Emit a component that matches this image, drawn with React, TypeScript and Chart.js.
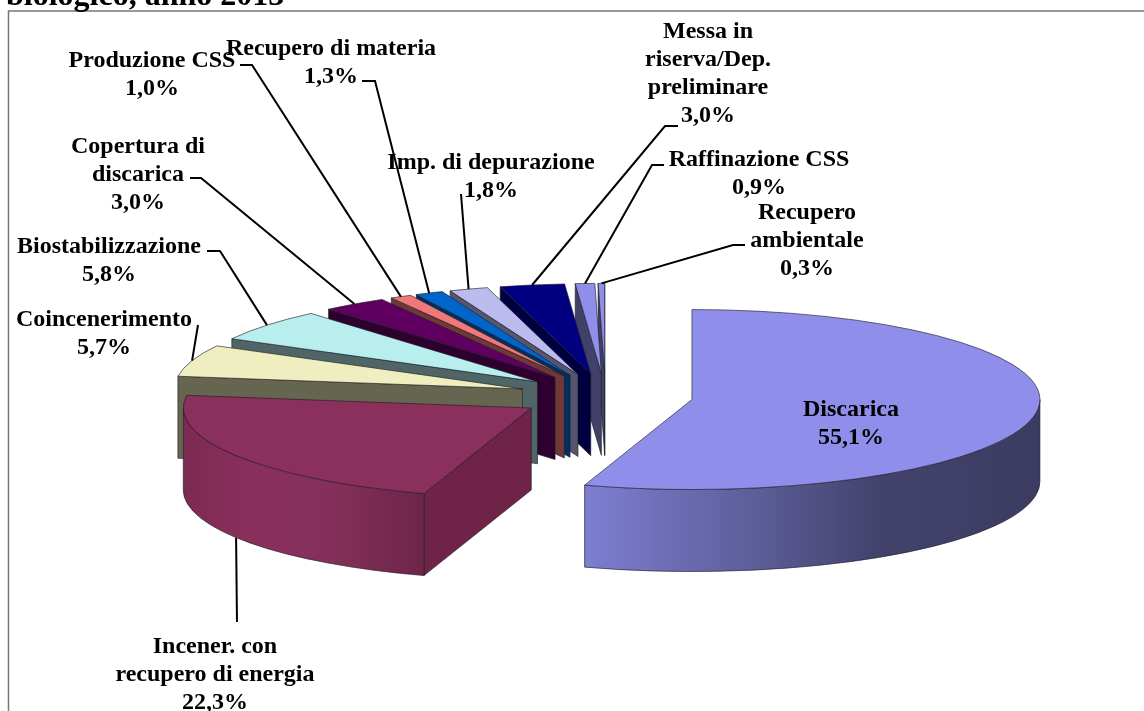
import React, { useEffect, useRef } from "react";
import { Chart, registerables } from "chart.js";

Chart.register(...registerables);

const titleText = "biologico, anno 2013";
const categories = [
  "Discarica",
  "Incener. con\nrecupero di energia",
  "Coincenerimento",
  "Biostabilizzazione",
  "Copertura di\ndiscarica",
  "Produzione CSS",
  "Recupero di materia",
  "Imp. di depurazione",
  "Messa in\nriserva/Dep.\npreliminare",
  "Raffinazione CSS",
  "Recupero\nambientale",
];
const shares = [55.1, 22.3, 5.7, 5.8, 3.0, 1.0, 1.3, 1.8, 3.0, 0.9, 0.3];
const topColors = ["#8F8FEB", "#8B2F5C", "#EEEEC0", "#B9EEEE", "#5F0060", "#F07878", "#0066CC", "#BBBBEE", "#000080", "#8F8FEB", "#8F8FEB"];
const wallColors = ["#3F3F68", "#6E2347", "#666650", "#506666", "#2E0030", "#703838", "#003060", "#555570", "#000040", "#404068", "#404068"];

const discaricaWall: [number, string][] = [[584, "#7E7ED2"], [760, "#5C5C98"], [880, "#42426C"], [1040, "#3C3C62"]];
const incenerWall: [number, string][] = [[184, "#7C2A52"], [250, "#8B2F5C"], [330, "#84305A"], [423, "#6E2548"]];

// Label layout: centre x, centre y of the first line, leader elbow points
const labelX = [851, 215, 104, 109, 138, 152, 331, 491, 708, 759, 807];
const labelY = [410, 647, 320, 247, 147, 61, 49, 163, 32, 160, 213];
const leaders: number[][][] = [
  [],
  [[237, 622]],
  [[198, 325]],
  [[207, 251], [220, 251]],
  [[190, 178], [201, 178]],
  [[240, 65], [252, 65]],
  [[362, 81], [375, 81]],
  [[461, 194]],
  [[678, 126], [665, 126]],
  [[664, 165], [652, 165]],
  [[745, 245], [733, 245]],
];

const K = 0.2586;
const EXPLODE = 87.5;
const DEPTH = 82;
const FONT = 'bold 24px "Liberation Serif"';
const LINE = 27.8;

const piePlugin = {
  id: "pie3d",
  beforeDatasetsDraw(chart: any) {
    const ctx: CanvasRenderingContext2D = chart.ctx;
    const arcs = chart.getDatasetMeta(0).data;
    const order = [0, 10, 9, 8, 7, 6, 5, 4, 3, 2, 1];
    order.forEach((i) => {
      const arc = arcs[i];
      const a1 = arc.startAngle;
      const a2 = arc.endAngle;
      const m = (a1 + a2) / 2;
      const R = arc.outerRadius;
      const cx = arc.x + Math.cos(m) * EXPLODE;
      const cy = arc.y + Math.sin(m) * EXPLODE * K;
      const rim = (a: number) => [cx + R * Math.cos(a), cy + R * K * Math.sin(a)];
      const outline = "rgba(30,30,40,0.8)";
      ctx.save();
      ctx.lineWidth = 0.8;
      ctx.strokeStyle = outline;
      ctx.lineJoin = "round";
      // radial walls facing the viewer
      const radial = (a: number) => {
        const p = rim(a);
        ctx.beginPath();
        ctx.moveTo(cx, cy);
        ctx.lineTo(p[0], p[1]);
        ctx.lineTo(p[0], p[1] + DEPTH);
        ctx.lineTo(cx, cy + DEPTH);
        ctx.closePath();
        ctx.fillStyle = wallColors[i];
        ctx.fill();
        ctx.stroke();
      };
      if (Math.cos(a1) < 0) radial(a1);
      if (Math.cos(a2) > 0) radial(a2);
      // curved outer wall
      const lo = Math.max(a1, 0);
      const hi = Math.min(a2, Math.PI);
      if (lo < hi) {
        const stops = i === 0 ? discaricaWall : i === 1 ? incenerWall : null;
        let fill: any = wallColors[i];
        if (stops) {
          const g = ctx.createLinearGradient(stops[0][0], 0, stops[stops.length - 1][0], 0);
          const span = stops[stops.length - 1][0] - stops[0][0];
          stops.forEach((s) => g.addColorStop((s[0] - stops[0][0]) / span, s[1]));
          fill = g;
        }
        ctx.beginPath();
        ctx.ellipse(cx, cy, R, R * K, 0, lo, hi);
        ctx.ellipse(cx, cy + DEPTH, R, R * K, 0, hi, lo, true);
        ctx.closePath();
        ctx.fillStyle = fill;
        ctx.fill();
        ctx.stroke();
      }
      // top face, drawn by the library's arc element
      ctx.save();
      ctx.translate(0, arc.y);
      ctx.scale(1, K);
      ctx.translate(0, -arc.y);
      ctx.translate(Math.cos(m) * EXPLODE, Math.sin(m) * EXPLODE);
      arc.draw(ctx);
      ctx.restore();
      ctx.beginPath();
      ctx.moveTo(cx, cy);
      ctx.ellipse(cx, cy, R, R * K, 0, a1, a2);
      ctx.closePath();
      ctx.stroke();
      ctx.restore();
    });
    return false;
  },
  afterDraw(chart: any) {
    const ctx: CanvasRenderingContext2D = chart.ctx;
    const arcs = chart.getDatasetMeta(0).data;
    ctx.save();
    // frame
    ctx.strokeStyle = "#777777";
    ctx.lineWidth = 1.5;
    ctx.beginPath();
    ctx.moveTo(8.5, 720);
    ctx.lineTo(8.5, 11);
    ctx.lineTo(1150, 11);
    ctx.stroke();
    // title
    ctx.fillStyle = "#000000";
    ctx.font = 'bold 32px "Liberation Serif"';
    ctx.textAlign = "left";
    ctx.textBaseline = "alphabetic";
    ctx.fillText(titleText, 6, 5);
    // leaders
    ctx.strokeStyle = "#000000";
    ctx.lineWidth = 2;
    leaders.forEach((pts, i) => {
      if (!pts.length) return;
      const arc = arcs[i];
      const m = (arc.startAngle + arc.endAngle) / 2;
      const R = arc.outerRadius + EXPLODE;
      const ax = arc.x + Math.cos(m) * R;
      const ay = arc.y + Math.sin(m) * R * K + (Math.sin(m) > 0 ? DEPTH : 0);
      ctx.beginPath();
      pts.forEach((p, j) => (j ? ctx.lineTo(p[0], p[1]) : ctx.moveTo(p[0], p[1])));
      ctx.lineTo(ax, ay);
      ctx.stroke();
    });
    // labels
    ctx.font = FONT;
    ctx.textAlign = "center";
    ctx.textBaseline = "middle";
    categories.forEach((c, i) => {
      const lines = [...c.split("\n"), shares[i].toFixed(1).replace(".", ",") + "%"];
      lines.forEach((t, j) => ctx.fillText(t, labelX[i], labelY[i] + j * LINE));
    });
    ctx.restore();
  },
};

export default function App() {
  const ref = useRef<HTMLCanvasElement>(null);
  useEffect(() => {
    const chart = new Chart(ref.current as HTMLCanvasElement, {
      type: "pie",
      data: {
        labels: categories.map((c) => c.replace(/\n/g, " ")),
        datasets: [{ data: shares, backgroundColor: topColors, borderWidth: 0 }],
      },
      options: {
        responsive: false,
        animation: false,
        events: [],
        radius: 348,
        layout: { padding: { left: 67, top: 81 } },
        plugins: { legend: { display: false }, tooltip: { enabled: false } },
      } as any,
      plugins: [piePlugin as any],
    });
    return () => chart.destroy();
  }, []);
  return (
    <div style={{ position: "absolute", left: 0, top: 0, width: 1144, height: 711, overflow: "hidden", background: "#fff" }}>
      <canvas ref={ref} width={1144} height={711} style={{ display: "block" }} />
    </div>
  );
}
